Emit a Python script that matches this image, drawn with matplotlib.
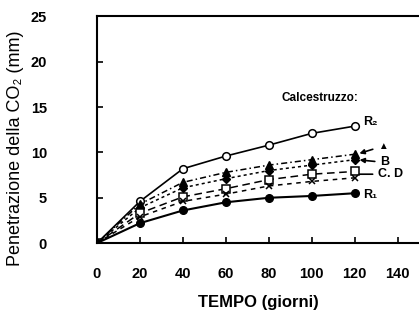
import matplotlib.pyplot as plt

plt.rcParams['font.family'] = ['Liberation Sans', 'DejaVu Sans']

# giorni
tempo = [0, 20, 40, 60, 80, 100, 120]

# penetrazione CO2 (mm)
r2 = [0, 4.6, 8.2, 9.6, 10.8, 12.1, 12.9]
a = [0, 4.3, 6.7, 7.8, 8.6, 9.2, 9.8]
b = [0, 3.9, 6.1, 7.1, 8.0, 8.6, 9.2]
c = [0, 3.3, 5.1, 6.0, 7.0, 7.6, 7.9]
d = [0, 2.9, 4.6, 5.4, 6.3, 6.8, 7.2]
r1 = [0, 2.2, 3.6, 4.5, 5.0, 5.2, 5.5]

xticks = [0, 20, 40, 60, 80, 100, 120, 140]
yticks = [0, 5, 10, 15, 20, 25]

fig = plt.figure(figsize=(4.19, 3.22), dpi=100)
ax = fig.add_axes([0.2315, 0.245, 0.7685, 0.704])

ax.plot(tempo, r2, color='black', lw=1.2, marker='o', ms=5.5, mfc='white', mew=1.1)
ax.plot(tempo, a, color='black', lw=1.1, ls=(0, (4, 2, 1, 2)), marker='^', ms=5.5)
ax.plot(tempo, b, color='black', lw=1.1, ls=(0, (2, 2)), marker='D', ms=4.5)
ax.plot(tempo, c, color='black', lw=1.1, ls=(0, (5, 3)), marker='s', ms=5.5, mfc='white', mew=1.1)
ax.plot(tempo, d, color='black', lw=1.1, ls=(0, (3, 3)), marker='x', ms=5, mew=1.1)
ax.plot(tempo, r1, color='black', lw=1.5, marker='o', ms=5.5)

ax.set_xlim(0, 150)
ax.set_ylim(0, 25)
ax.set_xticks(xticks)
ax.set_yticks(yticks)
ax.tick_params(direction='in', length=4, width=1.2)
ax.tick_params(axis='y', pad=36, labelsize=10.5)
ax.tick_params(axis='x', pad=17, labelsize=10.5)
for lab in ax.get_xticklabels() + ax.get_yticklabels():
    lab.set_fontweight('bold')
ax.spines['right'].set_visible(False)
for s in ['left', 'bottom', 'top']:
    ax.spines[s].set_linewidth(1.5)

ax.set_xlabel('TEMPO (giorni)', fontsize=12, fontweight='bold', labelpad=10)
ax.set_ylabel('Penetrazione della CO\u2082 (mm)', fontsize=13)
ax.yaxis.set_label_coords(-0.228, 0.42)

ax.text(86, 16, 'Calcestruzzo:', fontsize=8.5, fontweight='bold', va='center')
ax.text(124, 13.4, 'R\u2082', fontsize=9, fontweight='bold', va='center')
ax.text(124, 5.3, 'R\u2081', fontsize=9, fontweight='bold', va='center')
arr = dict(arrowstyle='-|>', color='black', lw=1.2, mutation_scale=7)
ax.annotate('\u25b2', xy=(121, a[-1]), xytext=(131, 10.7), fontsize=7,
            va='center', arrowprops=arr)
ax.annotate('B', xy=(121, b[-1]), xytext=(132, 8.9), fontsize=9, fontweight='bold',
            va='center', arrowprops=arr)
ax.annotate('C. D', xy=(121, 7.6), xytext=(131, 7.6), fontsize=9, fontweight='bold',
            va='center', arrowprops=dict(arrowstyle='-', color='black', lw=1.2))

fig.savefig('out.png', dpi=100)
